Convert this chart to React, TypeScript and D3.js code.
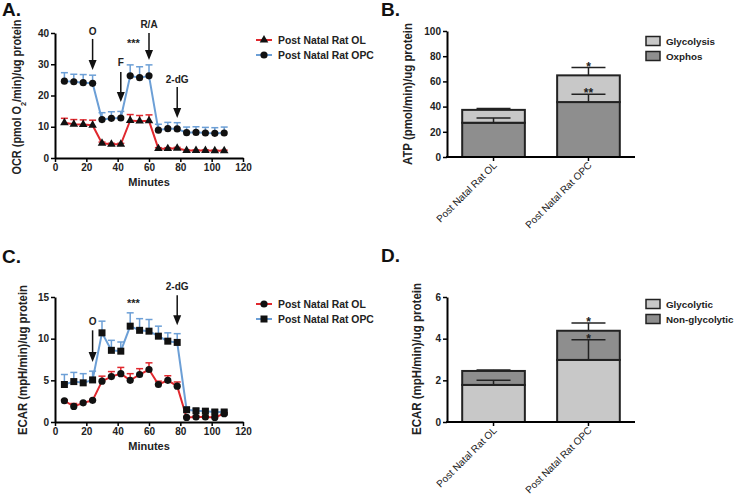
import React, { useEffect, useRef } from 'react';
import * as d3 from 'd3';

// time points (minutes) shared by both time-course panels
const minutes = [6, 12, 18, 24, 30, 36, 42, 48, 54, 60, 66, 72, 78, 84, 90, 96, 102, 108];

// panel A: OCR
const ocrOL = [11.3, 10.8, 10.7, 10.5, 4.7, 4.4, 4.4, 12.0, 11.8, 11.9, 3.0, 3.0, 3.1, 2.4, 2.4, 2.4, 2.3, 2.3];
const ocrOLErr = [1.4, 1.5, 1.5, 1.6, 0.4, 0.3, 0.3, 1.9, 1.8, 1.9, 0.3, 0.3, 0.3, 0.2, 0.2, 0.2, 0.2, 0.2];
const ocrOPC = [24.6, 24.4, 24.1, 23.9, 12.3, 12.7, 12.8, 26.3, 25.7, 26.3, 8.9, 9.4, 9.3, 8.1, 8.2, 8.0, 7.9, 8.0];
const ocrOPCErr = [2.7, 2.4, 2.6, 2.6, 2.2, 2.1, 2.1, 3.5, 3.5, 3.5, 1.9, 2.0, 2.0, 1.8, 1.8, 1.8, 1.8, 1.9];
const ocrTicks = [0, 10, 20, 30, 40];
const ocrArrows = [
    { label: 'O', x: 24, text: 39.5, top: 38.1, bottom: 28.2 },
    { label: 'F', x: 42, text: 29.4, top: 27.5, bottom: 17.9 },
    { label: 'R/A', x: 60, text: 41.6, top: 40.0, bottom: 31.4 },
    { label: '2-dG', x: 78, text: 24.0, top: 22.7, bottom: 12.8 }
];
const ocrStars = { x: 50, y: 35.6, text: '***' };

// panel C: ECAR time course
const ecarOL = [2.55, 1.87, 2.3, 2.6, 4.9, 5.45, 5.8, 5.0, 5.7, 6.3, 4.5, 5.0, 4.3, 0.55, 0.6, 0.6, 0.55, 1.0];
const ecarOLErr = [0.1, 0.35, 0.1, 0.1, 0.6, 0.6, 0.75, 0.8, 0.7, 0.8, 0.4, 0.55, 0.5, 0.1, 0.1, 0.1, 0.1, 0.15];
const ecarOPC = [4.5, 4.85, 4.7, 5.05, 10.7, 8.6, 8.5, 11.5, 11.0, 10.9, 10.3, 9.7, 9.55, 1.47, 1.35, 1.3, 1.2, 1.2];
const ecarOPCErr = [1.2, 1.1, 1.1, 1.05, 1.4, 1.2, 1.1, 1.6, 1.4, 1.4, 1.2, 1.0, 1.05, 0.3, 0.25, 0.25, 0.25, 0.2];
const ecarTicks = [0, 5, 10, 15];
const ecarArrows = [
    { label: 'O', x: 24, text: 11.6, top: 11.0, bottom: 7.2 },
    { label: '2-dG', x: 78, text: 15.8, top: 15.2, bottom: 11.6 }
];
const ecarStars = { x: 50, y: 13.8, text: '***' };

const minuteTicks = [0, 20, 40, 60, 80, 100, 120];

// panels B and D: stacked bars
const groups = ['Post Natal Rat OL', 'Post Natal Rat OPC'];
const atpOxphos = [27.2, 43.6];
const atpOxphosErr = [3.8, 6.3];
const atpGlyco = [10.2, 21.2];
const atpTotalErr = [1.0, 6.2];
const atpTicks = [0, 20, 40, 60, 80, 100];

const ecarGlycolytic = [1.78, 2.98];
const ecarGlycolyticErr = [0.22, 0.97];
const ecarNonGly = [0.67, 1.4];
const ecarTotalErr = [0.05, 0.37];
const ecarBarTicks = [0, 2, 4, 6];

const RED = '#e0282e';
const BLUE = '#6c9fd6';
const LIGHT = '#c8c8c8';
const DARK = '#8e8e8e';
const FONT = 'Liberation Sans, Arial, sans-serif';

function styleAxis(a) {
    a.select('.domain').attr('stroke', '#000').attr('stroke-width', 2);
    a.selectAll('.tick line').attr('stroke', '#000').attr('stroke-width', 1.5);
    a.selectAll('.tick text').attr('fill', '#222').style('font', `bold 10px ${FONT}`);
}

function marker(sel, shape, cx, cy) {
    if (shape === 'triangle') {
        sel.append('path').attr('d', d3.symbol(d3.symbolTriangle, 32)()).attr('transform', `translate(${cx},${cy})`).attr('fill', '#111');
    } else if (shape === 'square') {
        sel.append('rect').attr('x', cx - 3.5).attr('y', cy - 3.5).attr('width', 7).attr('height', 7).attr('fill', '#111');
    } else {
        sel.append('circle').attr('cx', cx).attr('cy', cy).attr('r', 3.6).attr('fill', '#111');
    }
}

function lineChart(svg, opts) {
    const { top, bottom, domainMax, yTicks, series, arrows, stars, legendY, panel, yLabel } = opts;
    const g = svg.append('g');
    const x = d3.scaleLinear().domain([0, 120]).range([55, 243]);
    const y = d3.scaleLinear().domain([0, domainMax]).range([bottom, top]);

    g.append('text').attr('x', 2).attr('y', panel.y).text(panel.text)
        .style('font', `bold 19px ${FONT}`).attr('fill', '#111');

    const line = d3.line().x((d, i) => x(minutes[i])).y(d => y(d));

    series.forEach(s => {
        // upward error bars
        s.values.forEach((v, i) => {
            const cx = x(minutes[i]);
            g.append('line').attr('x1', cx).attr('x2', cx).attr('y1', y(v)).attr('y2', y(v + s.err[i]))
                .attr('stroke', s.color).attr('stroke-width', 1.5);
            g.append('line').attr('x1', cx - 3.5).attr('x2', cx + 3.5).attr('y1', y(v + s.err[i])).attr('y2', y(v + s.err[i]))
                .attr('stroke', s.color).attr('stroke-width', 1.5);
        });
        g.append('path').attr('d', line(s.values)).attr('fill', 'none').attr('stroke', s.color).attr('stroke-width', 2);
        s.values.forEach((v, i) => marker(g, s.shape, x(minutes[i]), y(v)));
    });

    const ya = g.append('g').attr('transform', `translate(${x.range()[0]},0)`)
        .call(d3.axisLeft(y).tickValues(yTicks).tickSize(4).tickSizeOuter(0).tickPadding(2));
    const xa = g.append('g').attr('transform', `translate(0,${bottom})`)
        .call(d3.axisBottom(x).tickValues(minuteTicks).tickSize(4).tickSizeOuter(0).tickPadding(2));
    styleAxis(ya);
    styleAxis(xa);

    g.append('text').attr('x', (x(0) + x(120)) / 2).attr('y', bottom + 28).attr('text-anchor', 'middle')
        .text('Minutes').style('font', `bold 11px ${FONT}`).attr('fill', '#222');

    const yl = g.append('text').attr('transform', `translate(${yLabel.x},${yLabel.cy}) rotate(-90)`)
        .attr('text-anchor', 'middle').attr('textLength', yLabel.len).attr('lengthAdjust', 'spacingAndGlyphs')
        .style('font', `bold 12px ${FONT}`).attr('fill', '#222');
    yLabel.fill(yl);

    arrows.forEach(a => {
        const ax = x(a.x);
        g.append('text').attr('x', ax).attr('y', y(a.text)).attr('text-anchor', 'middle')
            .text(a.label).style('font', `bold 10px ${FONT}`).attr('fill', '#222');
        g.append('line').attr('x1', ax).attr('x2', ax).attr('y1', y(a.top)).attr('y2', y(a.bottom) - 7)
            .attr('stroke', '#111').attr('stroke-width', 1.5);
        g.append('path').attr('d', `M${ax - 4},${y(a.bottom) - 10}L${ax + 4},${y(a.bottom) - 10}L${ax},${y(a.bottom)}Z`).attr('fill', '#111');
    });
    g.append('text').attr('x', x(stars.x)).attr('y', y(stars.y)).attr('text-anchor', 'middle')
        .text(stars.text).style('font', `bold 11px ${FONT}`).attr('fill', '#222');

    // legend
    series.forEach((s, i) => {
        const ly = legendY + i * 15;
        g.append('line').attr('x1', 256).attr('x2', 272).attr('y1', ly).attr('y2', ly).attr('stroke', s.color).attr('stroke-width', 2);
        marker(g, s.shape, 264, ly);
        g.append('text').attr('x', 278).attr('y', ly + 4).text(s.name).style('font', `bold 10.4px ${FONT}`).attr('fill', '#222');
    });
}

function barChart(svg, opts) {
    const { top, bottom, domainMax, yTicks, lower, lowerErr, upper, totalErr, lowerColor, upperColor, lowerStar, upperStar, legend, panel, yLabel, legendY } = opts;
    const g = svg.append('g');
    const x = d3.scaleBand().domain(groups).range([447, 635]).paddingInner(0.34).paddingOuter(0.16);
    const y = d3.scaleLinear().domain([0, domainMax]).range([bottom, top]);

    g.append('text').attr('x', 381).attr('y', panel.y).text(panel.text)
        .style('font', `bold 19px ${FONT}`).attr('fill', '#111');

    groups.forEach((grp, i) => {
        const bx = x(grp);
        const bw = x.bandwidth();
        const cx = bx + bw / 2;
        const total = lower[i] + upper[i];
        g.append('rect').attr('x', bx).attr('width', bw).attr('y', y(lower[i])).attr('height', y(0) - y(lower[i]))
            .attr('fill', lowerColor).attr('stroke', '#222').attr('stroke-width', 2);
        g.append('rect').attr('x', bx).attr('width', bw).attr('y', y(total)).attr('height', y(lower[i]) - y(total))
            .attr('fill', upperColor).attr('stroke', '#222').attr('stroke-width', 2);
        const errs = [[lower[i], lowerErr[i], lowerStar[i]], [total, totalErr[i], upperStar[i]]];
        errs.forEach(([v, e, star]) => {
            g.append('line').attr('x1', cx).attr('x2', cx).attr('y1', y(v)).attr('y2', y(v + e)).attr('stroke', '#222').attr('stroke-width', 1.5);
            g.append('line').attr('x1', cx - 17).attr('x2', cx + 17).attr('y1', y(v + e)).attr('y2', y(v + e)).attr('stroke', '#222').attr('stroke-width', 1.5);
            if (star) {
                g.append('text').attr('x', cx).attr('y', y(v + e) + 3).attr('text-anchor', 'middle')
                    .text(star).style('font', `bold 12px ${FONT}`).attr('fill', '#222');
            }
        });
    });

    const ya = g.append('g').attr('transform', `translate(447,0)`)
        .call(d3.axisLeft(y).tickValues(yTicks).tickFormat(d3.format('d')).tickSize(4).tickSizeOuter(0).tickPadding(2));
    styleAxis(ya);

    g.append('line').attr('x1', 446).attr('x2', 635).attr('y1', bottom).attr('y2', bottom).attr('stroke', '#000').attr('stroke-width', 2);
    groups.forEach(grp => {
        const cx = x(grp) + x.bandwidth() / 2;
        g.append('line').attr('x1', cx).attr('x2', cx).attr('y1', bottom).attr('y2', bottom + 4).attr('stroke', '#000').attr('stroke-width', 1.5);
        g.append('text').attr('transform', `translate(${cx + 4},${bottom + 9}) rotate(-45)`).attr('text-anchor', 'end')
            .text(grp).style('font', `10px ${FONT}`).attr('fill', '#222');
    });

    g.append('text').attr('transform', `translate(${yLabel.x},${yLabel.cy}) rotate(-90)`)
        .attr('text-anchor', 'middle').attr('textLength', yLabel.len).attr('lengthAdjust', 'spacingAndGlyphs')
        .text(yLabel.text).style('font', `bold 12px ${FONT}`).attr('fill', '#222');

    legend.forEach((l, i) => {
        const ly = legendY + i * 15;
        g.append('rect').attr('x', 646).attr('y', ly - 4.5).attr('width', 14).attr('height', 9)
            .attr('fill', l.color).attr('stroke', '#222').attr('stroke-width', 1.5);
        g.append('text').attr('x', 666).attr('y', ly + 4).text(l.name).style('font', `bold 9.8px ${FONT}`).attr('fill', '#222');
    });
}

const App = () => {
    const ref = useRef(null);

    useEffect(() => {
        const svg = d3.select(ref.current);
        svg.selectAll('*').remove();

        lineChart(svg, {
            top: 33, bottom: 158, domainMax: 40, yTicks: ocrTicks,
            series: [
                { name: 'Post Natal Rat OL', values: ocrOL, err: ocrOLErr, color: RED, shape: 'triangle' },
                { name: 'Post Natal Rat OPC', values: ocrOPC, err: ocrOPCErr, color: BLUE, shape: 'circle' }
            ],
            arrows: ocrArrows, stars: ocrStars, legendY: 40,
            panel: { text: 'A.', y: 16 },
            yLabel: {
                x: 21, cy: 97, len: 155,
                fill: t => {
                    t.append('tspan').text('OCR (pmol O');
                    t.append('tspan').attr('baseline-shift', 'sub').style('font-size', '8px').text('2');
                    t.append('tspan').text('/min)/ug protein');
                }
            }
        });

        lineChart(svg, {
            top: 297, bottom: 422, domainMax: 15, yTicks: ecarTicks,
            series: [
                { name: 'Post Natal Rat OL', values: ecarOL, err: ecarOLErr, color: RED, shape: 'circle' },
                { name: 'Post Natal Rat OPC', values: ecarOPC, err: ecarOPCErr, color: BLUE, shape: 'square' }
            ],
            arrows: ecarArrows, stars: ecarStars, legendY: 304,
            panel: { text: 'C.', y: 263 },
            yLabel: { x: 27, cy: 360, len: 150, fill: t => t.text('ECAR (mpH/min)/ug protein') }
        });

        barChart(svg, {
            top: 31, bottom: 157, domainMax: 100, yTicks: atpTicks,
            lower: atpOxphos, lowerErr: atpOxphosErr, upper: atpGlyco, totalErr: atpTotalErr,
            lowerColor: DARK, upperColor: LIGHT,
            lowerStar: ['', '**'], upperStar: ['', '*'],
            legend: [{ name: 'Glycolysis', color: LIGHT }, { name: 'Oxphos', color: DARK }],
            legendY: 41,
            panel: { text: 'B.', y: 16 },
            yLabel: { x: 412, cy: 94, len: 142, text: 'ATP (pmol/min)/ug protein' }
        });

        barChart(svg, {
            top: 297, bottom: 422, domainMax: 6, yTicks: ecarBarTicks,
            lower: ecarGlycolytic, lowerErr: ecarGlycolyticErr, upper: ecarNonGly, totalErr: ecarTotalErr,
            lowerColor: LIGHT, upperColor: DARK,
            lowerStar: ['', '*'], upperStar: ['', '*'],
            legend: [{ name: 'Glycolytic', color: LIGHT }, { name: 'Non-glycolytic', color: DARK }],
            legendY: 304,
            panel: { text: 'D.', y: 262 },
            yLabel: { x: 421, cy: 359, len: 152, text: 'ECAR (mpH/min)/ug protein' }
        });
    }, []);

    return (
        <svg ref={ref} width={738} height={497}
            style={{ position: 'absolute', left: 0, top: 0, background: '#fff' }} />
    );
};

export default App;
